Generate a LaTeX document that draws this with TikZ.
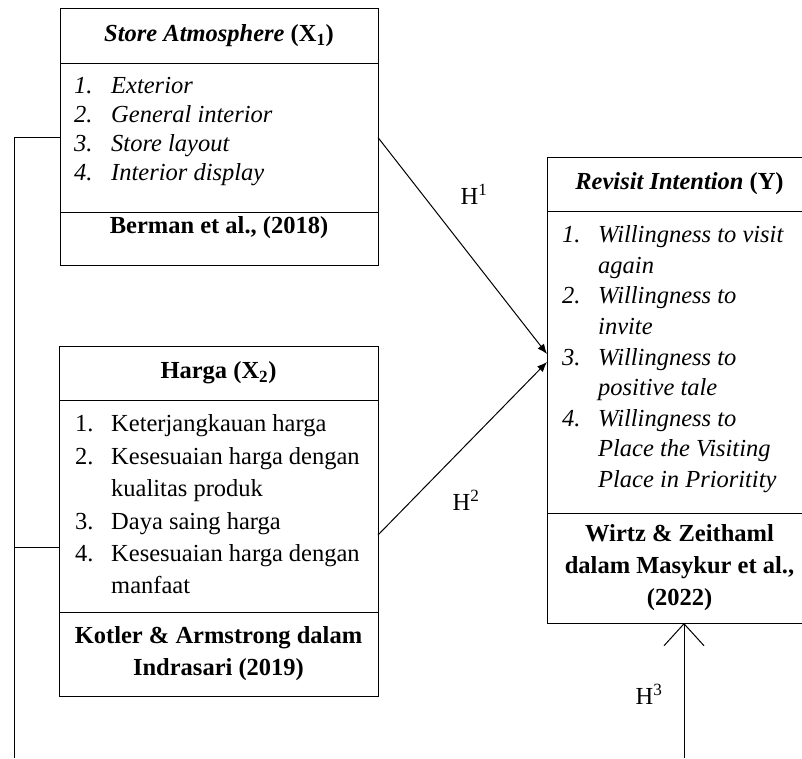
\documentclass[tikz,border=0pt]{standalone}
\usepackage{fontspec}
\setmainfont{Liberation Serif}
\usetikzlibrary{arrows.meta,positioning,calc}
\tikzset{
  cell/.style={draw=black, line width=1pt, outer sep=0pt, inner sep=0pt, align=center, font=\fontsize{24.5}{32}\selectfont\bfseries},
  headcell/.style={cell, minimum height=55pt},
  items/.style={anchor=north west, inner sep=0pt, align=left},
  line/.style={line width=1pt},
  arrow/.style={-{Latex[length=10pt,width=8pt]}, line width=1pt},
  hlabel/.style={inner sep=0pt, font=\fontsize{24.5}{29}\selectfont}
}
\begin{document}
\begin{tikzpicture}[x=1pt, y=-1pt]
  \useasboundingbox (0,0) rectangle (802,758);
  % Store Atmosphere (X1)
  \node[headcell, minimum width=318pt, anchor=north west] (x1head) at (60,8) {\textit{Store Atmosphere} (X\textsubscript{1})};
  \node[cell, minimum width=318pt, minimum height=149pt, below=0pt of x1head] (x1body) {};
  \node[cell, minimum width=318pt, minimum height=53pt, text depth=28pt, below=0pt of x1body] (x1ref) {Berman et al., (2018)};
  \node[items, font=\fontsize{24.5}{29}\selectfont\itshape] (x1items) at ([xshift=14pt,yshift=-10pt]x1body.north west)
    {\begin{tabular}{@{}p{37pt}@{}l@{}}
     1. & Exterior\\
     2. & General interior\\
     3. & Store layout\\
     4. & Interior display
     \end{tabular}};
  % Harga (X2)
  \node[headcell, minimum width=319pt, minimum height=54pt, anchor=north west] (x2head) at (59,346) {Harga (X\textsubscript{2})};
  \node[cell, minimum width=319pt, minimum height=212pt, below=0pt of x2head] (x2body) {};
  \node[cell, minimum width=319pt, minimum height=84pt, below=0pt of x2body] (x2ref) {Kotler \& Armstrong dalam\\Indrasari (2019)};
  \node[items, font=\fontsize{24.5}{32.4}\selectfont] (x2items) at ([xshift=16pt,yshift=-9pt]x2body.north west)
    {\begin{tabular}{@{}p{36pt}@{}l@{}}
     1. & Keterjangkauan harga\\
     2. & Kesesuaian harga dengan\\
        & kualitas produk\\
     3. & Daya saing harga\\
     4. & Kesesuaian harga dengan\\
        & manfaat
     \end{tabular}};
  % Revisit Intention (Y)
  \node[headcell, minimum width=265pt, minimum height=54pt, anchor=north west] (yhead) at (547,157) {\textit{Revisit Intention} (Y)};
  \node[cell, minimum width=265pt, minimum height=302pt, below=0pt of yhead] (ybody) {};
  \node[cell, minimum width=265pt, minimum height=110pt, below=0pt of ybody] (yref) {Wirtz \& Zeithaml\\dalam Masykur et al.,\\(2022)};
  \node[items, font=\fontsize{24.5}{30.6}\selectfont\itshape] (yitems) at ([xshift=15pt,yshift=-10pt]ybody.north west)
    {\begin{tabular}{@{}p{36pt}@{}l@{}}
     1. & Willingness to visit\\
        & again\\
     2. & Willingness to\\
        & invite\\
     3. & Willingness to\\
        & positive tale\\
     4. & Willingness to\\
        & Place the Visiting\\
        & Place in Prioritity
     \end{tabular}};
  % hypotheses
  \draw[arrow] (x1body.east) -- ([yshift=8pt]ybody.west);
  \draw[arrow] ([yshift=-29pt]x2body.east) -- (ybody.west);
  \coordinate (h3foot) at (684,758);
  \draw[line, -{Straight Barb[length=22pt,width=40pt]}] (h3foot) -- (h3foot |- yref.south);
  \node[hlabel] (h1) at (474,194) {H\textsuperscript{1}};
  \node[hlabel] (h2) at (466,500) {H\textsuperscript{2}};
  \node[hlabel] (h3) at (649,694) {H\textsuperscript{3}};
  % left bracket
  \coordinate (fbfoot) at (14,758);
  \draw[line] (x1body.west) -- (x1body.west -| fbfoot) -- (fbfoot);
  \draw[line] ([yshift=-41pt]x2body.west) -- ([yshift=-41pt]x2body.west -| fbfoot);
\end{tikzpicture}
\end{document}
